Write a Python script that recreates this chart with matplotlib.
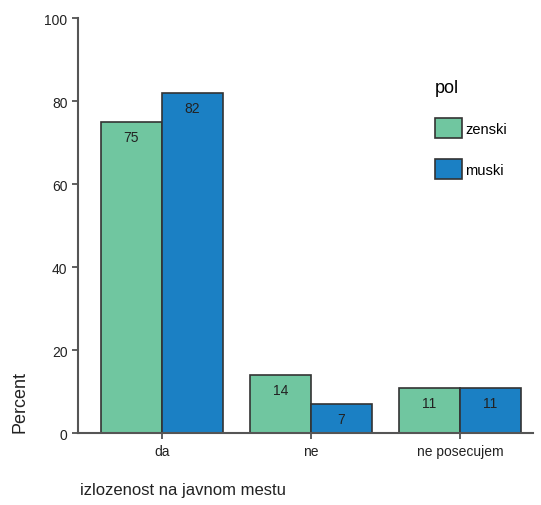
import matplotlib.pyplot as plt
import numpy as np
from matplotlib.patches import Patch

plt.rcParams['font.family'] = ['Liberation Sans', 'DejaVu Sans']

categories = ['da', 'ne', 'ne posecujem']
series_names = ['zenski', 'muski']
zenski = [75, 14, 11]
muski = [82, 7, 11]
colors = ['#70C6A0', '#1B80C4']

fig = plt.figure(figsize=(5.41, 5.06), dpi=100)
ax = fig.add_axes([0.144, 0.142, 0.841, 0.820])

x = np.arange(len(categories))
w = 0.41
for vals, off, col in zip([zenski, muski], [-w / 2, w / 2], colors):
    bars = ax.bar(x + off, vals, width=w, color=col, edgecolor='#333333', linewidth=1.2)
    for b, v in zip(bars, vals):
        ax.annotate(f'{v}', (b.get_x() + b.get_width() / 2, v), xytext=(0, -11),
                    textcoords='offset points', ha='center', va='center',
                    fontsize=10, color='#222222')

ax.set_xlim(-0.564, 2.49)
ax.set_ylim(0, 100)
ax.set_yticks([0, 20, 40, 60, 80, 100])
ax.set_xticks(x)
ax.set_xticklabels(categories)
ax.tick_params(axis='both', labelsize=10, colors='#444444', labelcolor='#222222',
               length=4, width=1.2)
for s in ['top', 'right']:
    ax.spines[s].set_visible(False)
for s in ['left', 'bottom']:
    ax.spines[s].set_color('#555555')
    ax.spines[s].set_linewidth(1.5)

fig.text(0.022, 1 - 433 / 506, 'Percent', rotation=90, va='bottom', ha='left',
         fontsize=13, color='#222222')
fig.text(0.148, 0.022, 'izlozenost na javnom mestu', fontsize=12, color='#222222')

handles = [Patch(facecolor=c, edgecolor='#333333', linewidth=1.2) for c in colors]
leg = ax.legend(handles, series_names, title='pol', loc='upper left',
                bbox_to_anchor=(0.755, 0.885), frameon=False, fontsize=10.5,
                title_fontsize=13, handlelength=1.85, handleheight=1.7,
                labelspacing=1.45, handletextpad=0.25)
leg._legend_box.align = 'left'
leg._legend_box.sep = 16

fig.savefig('out.png', dpi=100)
